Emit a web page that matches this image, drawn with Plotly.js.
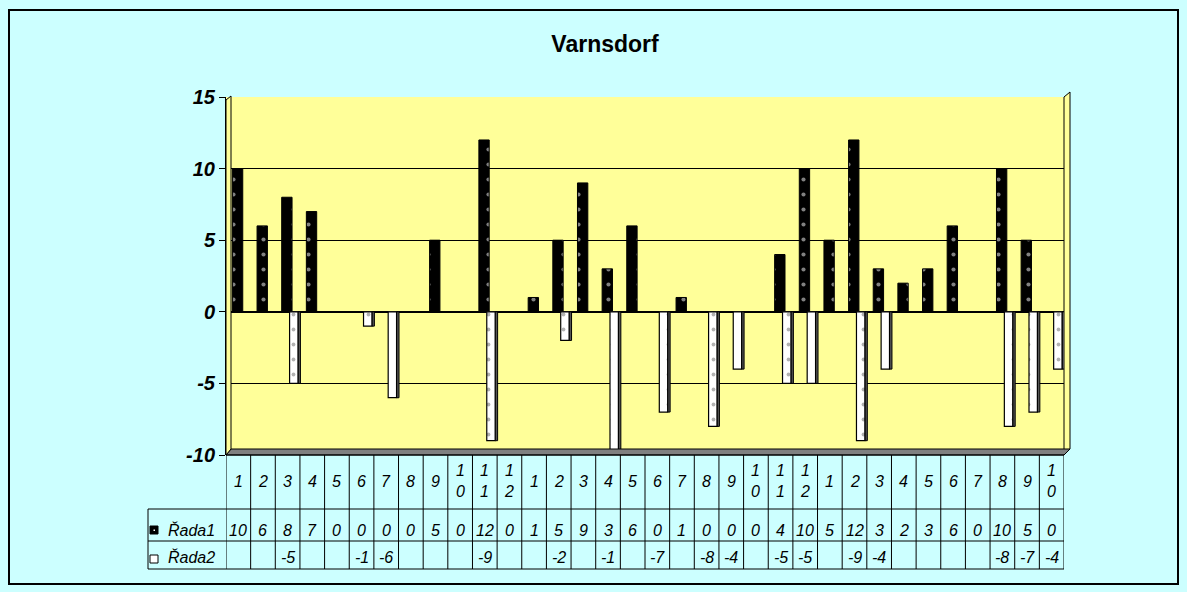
<!DOCTYPE html>
<html>
<head>
<meta charset="utf-8">
<script src="https://cdn.plot.ly/plotly-3.0.1.min.js"></script>
<style>html,body{margin:0;padding:0;background:#CCFFFF;}#chart{width:1187px;height:592px;}</style>
</head>
<body>
<div id="chart"></div>
<script>
// ---- data ----
const categories = ['1','2','3','4','5','6','7','8','9','10','11','12',
                    '1','2','3','4','5','6','7','8','9','10','11','12',
                    '1','2','3','4','5','6','7','8','9','10'];
const rada1 = [10,6,8,7,0,0,0,0,5,0,12,0,1,5,9,3,6,0,1,0,0,0,4,10,5,12,3,2,3,6,0,10,5,0];
const rada2 = [null,null,-5,null,null,-1,-6,null,null,null,-9,null,null,-2,null,-10,null,-7,null,-8,-4,null,-5,-5,null,-9,-4,null,null,null,null,-8,-7,-4];
const seriesNames = ['Řada1','Řada2'];
const chartTitle = 'Varnsdorf';
const yTicks = [-10,-5,0,5,10,15];

// ---- layout helpers ----
const W = 1187, H = 592;
const L = 226, R = 1064, T = 97, B = 455;
const px = p => (p - L) / (R - L);
const py = p => (B - p) / (B - T);
const idx = categories.map((c, i) => i);

const traces = [
  {
    type: 'bar', name: seriesNames[0], x: idx, y: rada1,
    width: 0.42, offset: -0.24,
    marker: {color: '#000000', line: {color: '#000000', width: 1},
      pattern: {shape: '.', fgcolor: '#FFFFFF', bgcolor: '#000000', size: 15, solidity: 0.06, fillmode: 'overlay'}},
    hoverinfo: 'skip'
  },
  {
    // shaded side face of the 3D columns of series 2
    type: 'bar', name: seriesNames[1] + ' side', x: idx, y: rada2,
    width: 0.1, offset: 0.42,
    marker: {color: '#555555', line: {color: '#000000', width: 1}},
    hoverinfo: 'skip'
  },
  {
    type: 'bar', name: seriesNames[1], x: idx, y: rada2,
    width: 0.34, offset: 0.08,
    marker: {color: '#FFFFFF', line: {color: '#000000', width: 1.2},
      pattern: {shape: '.', fgcolor: '#666666', bgcolor: '#FFFFFF', size: 15, solidity: 0.05, fillmode: 'overlay'}},
    hoverinfo: 'skip'
  }
];

const shapes = [];
const annotations = [];
const tableTop = py(455), row1 = py(509), row2 = py(541), row3 = py(569);
const lineStyle = {color: '#000000', width: 1};

// outer border
shapes.push({type: 'rect', xref: 'paper', yref: 'paper', x0: px(9), x1: px(1178), y0: py(10), y1: py(584),
  line: {color: '#000000', width: 2}, fillcolor: 'rgba(0,0,0,0)', layer: 'below'});
// floor (3D base)
shapes.push({type: 'path', xref: 'paper', yref: 'paper',
  path: `M ${px(226)} ${py(455)} L ${px(231)} ${py(449)} L ${px(1070)} ${py(449)} L ${px(1064)} ${py(455)} Z`,
  fillcolor: '#808080', line: {color: '#000000', width: 1}});
// right wall edge
shapes.push({type: 'path', xref: 'paper', yref: 'paper',
  path: `M ${px(1064)} ${py(97)} L ${px(1070)} ${py(92)} L ${px(1070)} ${py(449)} L ${px(1064)} ${py(455)} Z`,
  fillcolor: '#FFFF99', line: {color: '#000000', width: 1}, layer: 'below'});
// left wall
shapes.push({type: 'path', xref: 'paper', yref: 'paper',
  path: `M ${px(226)} ${py(100)} L ${px(231)} ${py(96)} L ${px(231)} ${py(449)} L ${px(226)} ${py(455)} Z`,
  fillcolor: '#FFFF99', line: {color: '#000000', width: 1}});

// table horizontal lines
[row1, row2, row3].forEach(yv => shapes.push({type: 'line', xref: 'paper', yref: 'paper',
  x0: px(148), x1: px(1064), y0: yv, y1: yv, line: lineStyle}));
shapes.push({type: 'line', xref: 'paper', yref: 'paper', x0: px(226), x1: px(1064), y0: tableTop, y1: tableTop, line: lineStyle});
// legend column left edge
shapes.push({type: 'line', xref: 'paper', yref: 'paper', x0: px(148), x1: px(148), y0: row1, y1: row3, line: lineStyle});
// column separators
for (let i = 0; i <= categories.length; i++) {
  shapes.push({type: 'line', xref: 'x', yref: 'paper', x0: i - 0.5, x1: i - 0.5, y0: tableTop, y1: row3, line: lineStyle});
}
// legend keys
shapes.push({type: 'rect', xref: 'paper', yref: 'paper', x0: px(150), x1: px(158), y0: py(526), y1: py(534),
  fillcolor: '#000000', line: {color: '#000000', width: 1}});
shapes.push({type: 'rect', xref: 'paper', yref: 'paper', x0: px(153.5), x1: px(155), y0: py(529.5), y1: py(531),
  fillcolor: '#FFFFFF', line: {width: 0}});
shapes.push({type: 'rect', xref: 'paper', yref: 'paper', x0: px(150), x1: px(158), y0: py(555), y1: py(563),
  fillcolor: '#FFFFFF', line: {color: '#000000', width: 1}});

const tfont = {family: 'Liberation Sans, Arial, sans-serif', size: 16, color: '#000000', style: 'italic'};
// category labels (wrap multi-digit like the narrow cells)
categories.forEach((c, i) => {
  annotations.push({xref: 'x', yref: 'paper', x: i, y: py(481), text: c.split('').join('<br>'),
    showarrow: false, font: tfont, xanchor: 'center', yanchor: 'middle'});
});
const cellText = v => { if (v === null) return ''; const s = String(v); return s.length > 2 ? s.slice(0, 2) : s; };
rada1.forEach((v, i) => annotations.push({xref: 'x', yref: 'paper', x: i, y: py(530), text: cellText(v),
  showarrow: false, font: tfont, xanchor: 'center', yanchor: 'middle'}));
rada2.forEach((v, i) => { if (v !== null) annotations.push({xref: 'x', yref: 'paper', x: i, y: py(557), text: cellText(v),
  showarrow: false, font: tfont, xanchor: 'center', yanchor: 'middle'}); });
// legend labels
annotations.push({xref: 'paper', yref: 'paper', x: px(166), y: py(530), text: seriesNames[0], showarrow: false, font: tfont, xanchor: 'left', yanchor: 'middle'});
annotations.push({xref: 'paper', yref: 'paper', x: px(166), y: py(557), text: seriesNames[1], showarrow: false, font: tfont, xanchor: 'left', yanchor: 'middle'});

const layout = {
  width: W, height: H,
  paper_bgcolor: '#CCFFFF', plot_bgcolor: '#FFFF99',
  margin: {l: L, r: W - R, t: T, b: H - B, pad: 0},
  showlegend: false,
  barmode: 'overlay',
  title: {text: '<b>' + chartTitle + '</b>', x: 605 / W, xanchor: 'center', y: 1 - 44 / H, yanchor: 'middle',
    font: {family: 'Liberation Sans, Arial, sans-serif', size: 23, color: '#000000'}},
  xaxis: {range: [-0.5, categories.length - 0.5], showticklabels: false, showgrid: false, zeroline: false,
    ticks: '', showline: false, fixedrange: true},
  yaxis: {range: [-10, 15], tickvals: yTicks, ticktext: yTicks.map(String), ticks: 'outside', ticklen: 6, tickcolor: '#000000',
    showgrid: true, gridcolor: '#000000', gridwidth: 1, zeroline: true, zerolinecolor: '#000000', zerolinewidth: 1.5,
    showline: true, linecolor: '#000000', linewidth: 1, mirror: false,
    tickfont: {family: 'Liberation Sans, Arial, sans-serif', size: 20, color: '#000000', weight: 'bold', style: 'italic'},
    fixedrange: true},
  shapes: shapes,
  annotations: annotations
};

Plotly.newPlot('chart', traces, layout, {displayModeBar: false, staticPlot: true});
</script>
</body>
</html>
